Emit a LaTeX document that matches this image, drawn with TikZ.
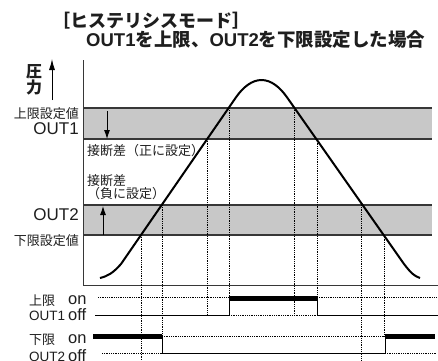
\documentclass[tikz,border=0pt]{standalone}
\usepackage{fontspec}
\setmainfont{Liberation Sans}
\newfontfamily\jp{Noto Sans CJK JP}
\usetikzlibrary{arrows.meta}
\newcommand\fsz[1]{\fontsize{#1}{#1}\selectfont}
\definecolor{bandgray}{RGB}{200,200,200}
\definecolor{linegray}{RGB}{55,55,55}
\definecolor{txtgray}{RGB}{30,30,30}
\begin{document}
\begin{tikzpicture}[x=1pt,y=-1pt,
  band/.style={fill=bandgray,draw=none},
  bandline/.style={draw=linegray,line width=1.6pt},
  axisline/.style={draw=linegray,line width=0.9pt},
  curve/.style={line width=2pt,black,line join=round},
  guide/.style={densely dotted,line width=0.8pt},
  sig/.style={line width=1pt},
  sigon/.style={line width=4.5pt},
  harrow/.style={line width=0.9pt,-{Latex[length=9pt,width=6pt]}},
  txt/.style={inner sep=0pt,text=txtgray},
  jpl/.style={txt,font=\jp\fsz{13}},
]
\useasboundingbox (0,0) rectangle (438,360);
\fill[white] (0,0) rectangle (438,360);
% bands
\fill[band] (83,108) rectangle (432,139);
\fill[band] (83,205) rectangle (432,235);
\draw[bandline] (83,108) -- (432,108);
\draw[bandline] (83,139) -- (432,139);
\draw[bandline] (83,205) -- (432,205);
\draw[bandline] (83,235) -- (432,235);
% axes
\draw[axisline] (83,60) -- (83,285) -- (438,285);
% arrows in bands
\draw[harrow] (107,111) -- (107,139);
\draw[harrow] (103,235) -- (103,206);
\draw[line width=0.9pt,-{Latex[length=11pt,width=6pt]}] (52,100) -- (52,59);
% guides
\draw[guide] (141,235) -- (141,360);
\draw[guide] (162,205) -- (162,336);
\draw[guide] (207,139) -- (207,315);
\draw[guide] (229,108) -- (229,297);
\draw[guide] (294,108) -- (294,315);
\draw[guide] (317,139) -- (317,297);
\draw[guide] (361,205) -- (361,360);
\draw[guide] (384,235) -- (384,336);
% timing dotted levels
\draw[guide] (98,297) -- (229,297);
\draw[guide] (317,297) -- (437,297);
\draw[guide] (229,315) -- (317,315);
\draw[guide] (162,336) -- (385,336);
\draw[guide] (102,353) -- (162,353);
\draw[guide] (385,353) -- (437,353);
% OUT1 signal
\draw[sig] (95,315) -- (229,315) -- (229,297);
\draw[sig] (317,297) -- (317,315) -- (438,315);
\draw[sigon] (229,298.5) -- (317,298.5);
% OUT2 signal
\draw[sigon] (93,336.5) -- (162,336.5);
\draw[sig] (162,334.5) -- (162,353) -- (385,353) -- (385,334.5);
\draw[sigon] (385,336.5) -- (435,336.5);
% curve
\draw[curve] (100,278) .. controls (108,276) and (113,273) .. (121,264)
  -- (235.5,98) .. controls (243,87) and (252,80) .. (261.5,80)
  .. controls (271,80) and (280,87) .. (287.5,98)
  -- (404,264) .. controls (411,273) and (414,276) .. (420,278);
% texts
\node[txt,anchor=west,font=\jp\bfseries\fsz{18}] (mode) at (52,21) {［ヒステリシスモード］};
\node[txt,anchor=west,font=\bfseries\fsz{18.5}] (title) at (86,40) {OUT1{\jp\bfseries を上限、}OUT2{\jp\bfseries を下限設定した場合}};
\node[txt,font=\jp\bfseries\fsz{16}] (p1) at (34,72) {圧};
\node[txt,font=\jp\bfseries\fsz{16}] (p2) at (34,87) {力};
\node[jpl,anchor=east] (ul) at (79,114) {上限設定値};
\node[txt,anchor=east,font=\fsz{17}] (o1) at (79,129) {OUT1};
\node[jpl,anchor=west] (d1) at (87,151) {接断差（正に設定）};
\node[jpl,anchor=west] (d2) at (87,181) {接断差};
\node[jpl,anchor=west] (d3) at (87,194) {（負に設定）};
\node[txt,anchor=east,font=\fsz{17}] (o2) at (79,215) {OUT2};
\node[jpl,anchor=east] (ll) at (79,241) {下限設定値};
% timing labels
\node[jpl,anchor=base west] (t1) at (29,305) {上限};
\node[txt,anchor=base west,font=\fsz{16.5}] (t1on) at (68,304.5) {on};
\node[txt,anchor=base west,font=\fsz{13.5}] (t1o) at (29,320) {OUT1};
\node[txt,anchor=base west,font=\fsz{16.5}] (t1off) at (68,320.5) {off};
\node[jpl,anchor=base west] (t2) at (29,344) {下限};
\node[txt,anchor=base west,font=\fsz{16.5}] (t2on) at (68,343.5) {on};
\node[txt,anchor=base west,font=\fsz{13.5}] (t2o) at (29,361) {OUT2};
\node[txt,anchor=base west,font=\fsz{16.5}] (t2off) at (68,361) {off};
\end{tikzpicture}
\end{document}
